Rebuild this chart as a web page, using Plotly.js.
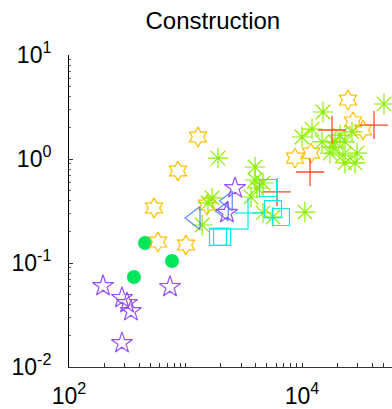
<!DOCTYPE html>
<html>
<head>
<meta charset="utf-8">
<script src="https://cdn.plot.ly/plotly-3.0.1.min.js"></script>
<style>html,body{margin:0;padding:0;background:#fff;}</style>
</head>
<body>
<div id="chart" style="width:392px;height:409px;"></div>
<script>
// ---- data ----
var starX = [196, 285, 315, 340, 736, 285, 2661, 2270];
var starY = [0.0601, 0.0461, 0.0412, 0.0345, 0.0588, 0.0170, 0.526, 0.303];

var ellipseX = [449, 766, 361];
var ellipseY = [0.1556, 0.1045, 0.0733];

var hexX = [1280, 862, 537, 581, 1009, 1530, 24830, 27400, 33400, 8710, 11950];
var hexY = [1.628, 0.767, 0.338, 0.159, 0.149, 0.361, 3.69, 2.27, 1.90, 1.02, 1.14];

var plusX = [18110, 41500, 11720, 6100];
var plusY = [1.90, 2.12, 0.750, 0.482];

var astX = [50580, 15140, 12190, 10000, 14860, 19190, 23390, 26870, 21200, 17380, 22490, 29650, 23390, 28510, 18450,
            3950, 3950, 4110, 3650, 4630, 1690, 1560, 1390, 4630, 5640, 10610, 1900];
var astY = [3.38, 2.83, 1.94, 1.628, 1.46, 1.46, 1.46, 1.82, 1.70, 1.14, 1.09, 1.14, 0.916, 0.916, 1.30,
            0.838, 0.628, 0.526, 0.431, 0.588, 0.422, 0.378, 0.232, 0.303, 0.277, 0.309, 1.02];

var squareX = [5110, 5640, 6600, 1900, 2060];
var squareY = [0.526, 0.330, 0.277, 0.178, 0.178];

var linkX = [4630, 2661, null, 3440, 3440, 1623];
var linkY = [0.303, 0.303, null, 0.422, 0.212, 0.212];

var triX = [1207, 2317, 2140];
var triY = [0.271, 0.395, 0.316];
var triSize = [20, 17, 17];

var xTickVals = [100, 10000];
var xTickText = ['10<sup>2</sup>', '10<sup>4</sup>'];
var yTickVals = [0.01, 0.1, 1, 10];
var yTickText = ['10<sup>-2</sup>', '10<sup>-1</sup>', '10<sup>0</sup>', '10<sup>1</sup>'];

var purple = '#9650ff', green = '#00e65a', yellow = '#ffbf00', red = '#ff4a2a',
    lime = '#8ced00', cyan = '#00ecf0', blue = '#1f66ff';

var traces = [
  {x: ellipseX, y: ellipseY, mode: 'markers', type: 'scatter',
   marker: {symbol: 'circle', size: 14, color: green, line: {width: 0}}},
  {x: hexX, y: hexY, mode: 'markers', type: 'scatter',
   marker: {symbol: 'hexagram-open', size: 15, color: yellow, line: {width: 1.2, color: yellow}}},
  {x: astX, y: astY, mode: 'markers', type: 'scatter',
   marker: {symbol: 'asterisk-open', size: 17, color: lime, line: {width: 1.2, color: lime}}},
  {x: plusX, y: plusY, mode: 'markers', type: 'scatter',
   marker: {symbol: 'cross-thin-open', size: 20, color: red, line: {width: 1.3, color: red}}},
  {x: linkX, y: linkY, mode: 'lines', type: 'scatter', connectgaps: false,
   line: {color: cyan, width: 1.2}},
  {x: squareX, y: squareY, mode: 'markers', type: 'scatter',
   marker: {symbol: 'square-open', size: 17, color: cyan, line: {width: 1.2, color: cyan}}},
  {x: triX, y: triY, mode: 'markers', type: 'scatter',
   marker: {symbol: 'triangle-left-open', size: triSize, color: blue, line: {width: 1.3, color: blue}}},
  {x: starX, y: starY, mode: 'markers', type: 'scatter',
   marker: {symbol: 'star-open', size: 16, color: purple, line: {width: 1.2, color: purple}}}
];

var layout = {
  width: 392, height: 409,
  margin: {l: 69, r: 0, t: 55, b: 42, pad: 0},
  paper_bgcolor: '#fff', plot_bgcolor: '#fff',
  showlegend: false,
  font: {family: 'Liberation Sans, Arial, sans-serif', color: '#000'},
  title: {text: 'Construction', font: {size: 24, color: '#000'},
          xref: 'container', x: 0.543, xanchor: 'center',
          yref: 'container', y: 0.949, yanchor: 'middle'},
  xaxis: {type: 'log', range: [2, 4.7725], showgrid: false, zeroline: false,
          showline: true, linecolor: '#333', linewidth: 1, mirror: false,
          tickmode: 'array', tickvals: xTickVals, ticktext: xTickText,
          ticks: 'inside', ticklen: 4, tickcolor: '#333', tickwidth: 1,
          ticklabelstandoff: 8,
          tickfont: {size: 23, color: '#000'},
          minor: {dtick: 'D1', ticks: 'inside', ticklen: 4, tickcolor: '#333', showgrid: false}},
  yaxis: {type: 'log', range: [-2, 1], showgrid: false, zeroline: false,
          showline: true, linecolor: '#000', linewidth: 1, mirror: false,
          tickmode: 'array', tickvals: yTickVals, ticktext: yTickText,
          ticks: 'inside', ticklen: 4, tickcolor: '#333', tickwidth: 1,
          ticklabelstandoff: 12,
          tickfont: {size: 23, color: '#000'},
          minor: {dtick: 'D1', ticks: 'inside', ticklen: 2, tickcolor: '#666', showgrid: false}}
};

Plotly.newPlot('chart', traces, layout, {displayModeBar: false, staticPlot: true});
</script>
</body>
</html>
